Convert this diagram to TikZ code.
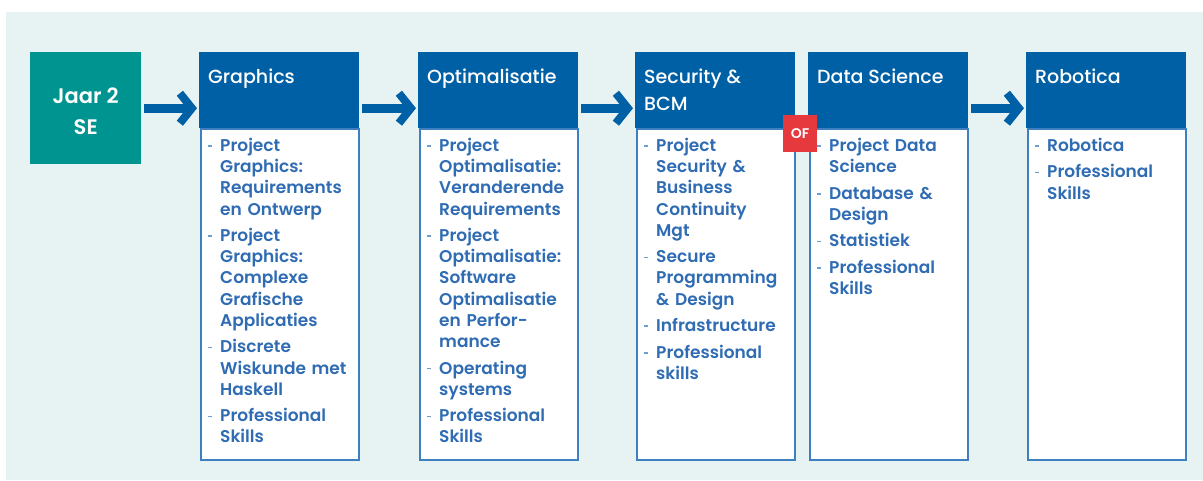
\documentclass[tikz,border=0pt]{standalone}
\usepackage{fontspec}
\setmainfont{Poppins}[BoldFont={Poppins SemiBold}]
\newfontfamily\headfont{Poppins Medium}
\usetikzlibrary{arrows.meta}

\definecolor{bgteal}{HTML}{E7F3F3}
\definecolor{yearteal}{HTML}{009490}
\definecolor{headblue}{HTML}{0060A6}
\definecolor{textblue}{HTML}{2F6CB3}
\definecolor{lineblue}{HTML}{3E7FC0}
\definecolor{ofred}{HTML}{E6393E}

% one course line with a hanging dash
\newcommand{\course}[1]{\par\noindent\hangindent=12pt\hangafter=1
  \makebox[12pt][l]{\textcolor{lineblue!75}{\rule[0.27em]{4pt}{1.6pt}}}%
  {\let\\\newline #1}\par\vspace{5.3pt}}

\begin{document}
\begin{tikzpicture}[
    x=1pt, y=-1pt,
    year/.style={rectangle, fill=yearteal, minimum width=111pt, minimum height=112pt,
      anchor=north west, inner sep=0pt},
    yeartext/.style={text=white, font=\bfseries\fontsize{21}{31}\selectfont, align=center},
    head/.style={rectangle, fill=headblue, minimum width=160pt, minimum height=76pt,
      anchor=north west, inner sep=0pt},
    headtext/.style={anchor=north west, text=white, font=\headfont\fontsize{19}{27}\selectfont,
      align=left, inner xsep=9pt, inner ysep=16.5pt},
    body/.style={rectangle, draw=lineblue, line width=1.6pt, fill=white, minimum width=158pt,
      minimum height=331pt, anchor=north west, inner sep=0pt},
    list/.style={anchor=north west, text=textblue, text width=146pt, inner xsep=8pt, inner ysep=2pt,
      font=\bfseries\fontsize{17}{21.2}\selectfont, align=left},
    flow/.style={draw=headblue, line width=9pt, shorten <=3pt, shorten >=2pt,
      -{Straight Barb[length=12pt, width=30pt, line width=8pt]}},
    orbadge/.style={rectangle, fill=ofred, text=white, font=\bfseries\fontsize{14}{14}\selectfont,
      minimum width=34pt, minimum height=37pt, inner sep=0pt}
  ]
    \useasboundingbox (0,0) rectangle (1203,480);
    \fill[bgteal] (6,12) rectangle (1203,480);

    % Year box
    \node[year] (jaar) at (30,52) {};
    \node[yeartext] (jaartext) at ([yshift=-3.5pt]jaar.center) {Jaar 2\\SE};

    % Column heads
    \foreach \name/\x/\title in {gfx/199/Graphics, opt/418/Optimalisatie, sec/635/{Security \&\\BCM},
        ds/808/Data Science, rob/1026/Robotica} {
      \node[body] (\name body) at (\x+1,128) {};
      \node[head] (\name head) at (\x,52) {};
      \node[headtext] (\name title) at (\name head.north west) {\title};
    }

    % Course lists
    \node[list] (gfxlist) at (gfxbody.north west) {%
      \course{Project\\Graphics:\\Requirements\\en Ontwerp}
      \course{Project\\Graphics:\\Complexe\\Grafische\\Applicaties}
      \course{Discrete\\Wiskunde met\\Haskell}
      \course{Professional\\Skills}};
    \node[list] (optlist) at (optbody.north west) {%
      \course{Project\\Optimalisatie:\\Veranderende\\Requirements}
      \course{Project\\Optimalisatie:\\Software\\Optimalisatie\\en Perfor-\\mance}
      \course{Operating\\systems}
      \course{Professional\\Skills}};
    \node[list] (seclist) at (secbody.north west) {%
      \course{Project\\Security \&\\Business\\Continuity\\Mgt}
      \course{Secure\\Programming\\\& Design}
      \course{Infrastructure}
      \course{Professional\\skills}};
    \node[list] (dslist) at (dsbody.north west) {%
      \course{Project Data\\Science}
      \course{Database \&\\Design}
      \course{Statistiek}
      \course{Professional\\Skills}};
    \node[list] (roblist) at (robbody.north west) {%
      \course{Robotica}
      \course{Professional\\Skills}};

    % Choice badge
    \node[orbadge] (of) at (800,133.5) {OF};

    % Connections
    \draw[flow] (jaar.east) -- (gfxhead.west |- jaar.east);
    \draw[flow] (gfxhead.east |- jaar.east) -- (opthead.west |- jaar.east);
    \draw[flow] (opthead.east |- jaar.east) -- (sechead.west |- jaar.east);
    \draw[flow] (dshead.east |- jaar.east) -- (robhead.west |- jaar.east);

  \end{tikzpicture}
\end{document}
